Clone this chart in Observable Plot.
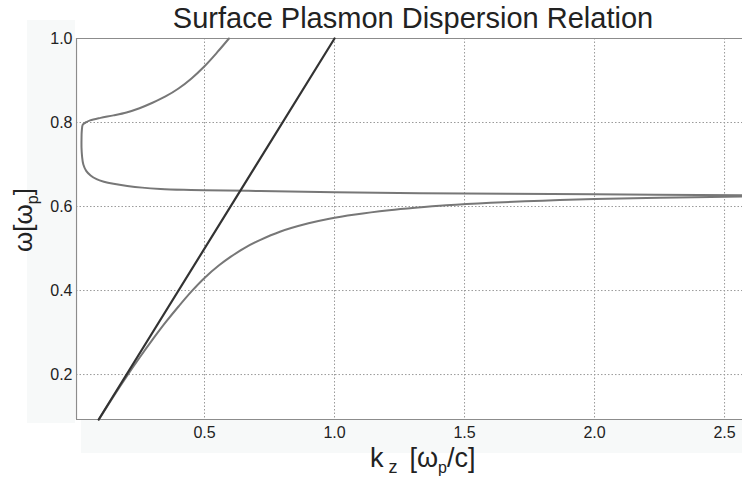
<!DOCTYPE html>
<html><head><meta charset="utf-8">
<script src="https://cdn.jsdelivr.net/npm/d3@7"></script>
<script src="https://cdn.jsdelivr.net/npm/@observablehq/plot@0.6"></script>
<style>
html,body{margin:0;padding:0;background:#fff;overflow:hidden;}
#wrap{position:relative;width:742px;height:477px;}
.band{position:absolute;background:#f7f9f9;z-index:0;}
#title{position:relative;z-index:1;height:37px;line-height:37px;margin-left:84px;width:658px;text-align:center;font-family:"Liberation Sans",Arial,Helvetica,sans-serif;font-size:29px;color:#222;white-space:nowrap;}
#chart{position:relative;z-index:1;}
</style></head><body>
<div id="wrap">
<div class="band" style="left:27px;top:20px;width:48px;height:403px"></div>
<div class="band" style="left:81px;top:420px;width:661px;height:33px"></div>
<div id="title">Surface Plasmon Dispersion Relation</div>
<div id="chart"></div>
</div>
<script>
// [k_z, ω] pairs
const lowerBranch = [[0.094,0.093],[0.15,0.148],[0.2,0.195],[0.25,0.240],[0.3,0.283],[0.35,0.324],[0.4,0.362],[0.45,0.398],[0.5,0.430],[0.556,0.460],[0.6,0.480],[0.65,0.500],[0.713,0.520],[0.79,0.540],[0.9,0.560],[0.98,0.571],[1.08,0.581],[1.21,0.591],[1.31,0.597],[1.43,0.603],[1.6,0.609],[1.8,0.614],[2.0,0.618],[2.25,0.621],[2.57,0.624]];
const middleBranch = [[0.042,0.800],[0.032,0.795],[0.028,0.780],[0.027,0.760],[0.027,0.740],[0.029,0.720],[0.034,0.700],[0.045,0.685],[0.062,0.674],[0.085,0.665],[0.113,0.659],[0.15,0.654],[0.203,0.649],[0.26,0.645],[0.331,0.642],[0.42,0.640],[0.5,0.639],[0.715,0.637],[1.0,0.634],[1.5,0.631],[2.0,0.629],[2.57,0.627]];
const upperBranch = [[0.042,0.800],[0.06,0.805],[0.1,0.811],[0.15,0.817],[0.2,0.824],[0.25,0.834],[0.3,0.847],[0.35,0.862],[0.4,0.881],[0.45,0.905],[0.5,0.934],[0.55,0.968],[0.594,1.0]];
const lightLine = [[0.093,0.093],[1.0,1.0]];
const xTicks = [0.5,1.0,1.5,2.0,2.5];
const yTicks = [0.2,0.4,0.6,0.8,1.0];
const xDomain = [0.0077,2.569];
const yDomain = [0.093,1.0];

const plot = Plot.plot({
  width: 742, height: 440,
  marginLeft: 76, marginRight: 0, marginTop: 1, marginBottom: 58,
  x: {domain: xDomain},
  y: {domain: yDomain},
  style: {fontFamily: "'Liberation Sans', Arial, Helvetica, sans-serif", fontSize: "16px", color: "#222", background: "transparent", overflow: "visible"},
  marks: [
    Plot.gridX(xTicks, {stroke: "#9a9a9a", strokeOpacity: 1, strokeDasharray: "1.5,2"}),
    Plot.gridY(yTicks.slice(0, 4), {stroke: "#9a9a9a", strokeOpacity: 1, strokeDasharray: "1.5,2"}),
    Plot.ruleX([xDomain[0]], {stroke: "#8c8c8c", strokeWidth: 1.2}),
    Plot.ruleY([yDomain[0]], {stroke: "#8c8c8c", strokeWidth: 1.2}),
    Plot.ruleY([yDomain[1]], {stroke: "#8c8c8c", strokeWidth: 1.2}),
    Plot.line(lowerBranch, {x: d => d[0], y: d => d[1], stroke: "#777", strokeWidth: 2, curve: "catmull-rom"}),
    Plot.line(middleBranch, {x: d => d[0], y: d => d[1], stroke: "#777", strokeWidth: 2, curve: "catmull-rom"}),
    Plot.line(upperBranch, {x: d => d[0], y: d => d[1], stroke: "#777", strokeWidth: 2, curve: "catmull-rom"}),
    Plot.line(lightLine, {x: d => d[0], y: d => d[1], stroke: "#333", strokeWidth: 2.2}),
    Plot.axisX(xTicks, {tickSize: 0, tickPadding: 7, fontSize: 16, label: null, tickFormat: d3.format(".1f")}),
    Plot.axisY(yTicks, {tickSize: 0, tickPadding: 4, fontSize: 16, label: null, tickFormat: d3.format(".1f")})
  ]
});
document.getElementById("chart").appendChild(plot);

const svg = d3.select(plot);
const yl = svg.append("text")
  .attr("transform", "translate(32,183) rotate(-90)")
  .attr("text-anchor", "middle")
  .attr("fill", "#222")
  .style("font-size", "26px");
yl.append("tspan").text("ω[ω");
yl.append("tspan").text("p").style("font-size", "16px").attr("dy", 6);
yl.append("tspan").text("]").attr("dy", -6);

const xl = svg.append("text")
  .attr("x", 370).attr("y", 430)
  .attr("text-anchor", "start")
  .attr("fill", "#222")
  .style("font-size", "27px");
xl.append("tspan").text("k");
xl.append("tspan").text("z").style("font-size", "18px").attr("dx", 5).attr("dy", 6);
xl.append("tspan").text("[ω").attr("dx", 12).attr("dy", -6);
xl.append("tspan").text("p").style("font-size", "16px").attr("dy", 6);
xl.append("tspan").text("/c]").attr("dy", -6);
</script>
</body></html>
